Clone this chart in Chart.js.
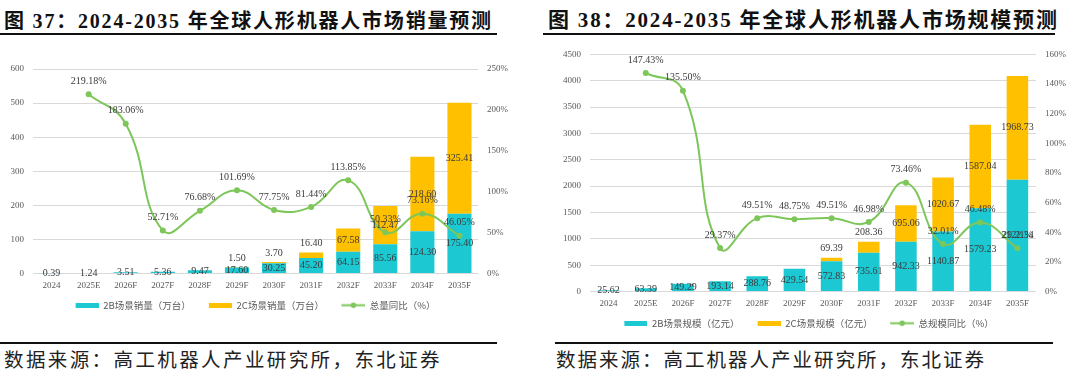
<!DOCTYPE html>
<html>
<head>
<meta charset="utf-8">
<script src="https://cdn.jsdelivr.net/npm/chart.js@4.4.0/dist/chart.umd.min.js"></script>
<style>
  body { margin: 0; width: 1080px; height: 379px; background: #fff; position: relative; overflow: hidden; }
  .title { position: absolute; top: 9px; font-family: "Liberation Serif", "Noto Sans CJK SC", serif; font-size: 20px; font-weight: bold; color: #111; letter-spacing: 1.8px; white-space: nowrap; line-height: 24px; }
  .rule { position: absolute; height: 2px; background: #111; }
  .source { position: absolute; top: 346px; font-family: "Noto Sans CJK SC", sans-serif; font-size: 19.5px; color: #222; letter-spacing: 2.4px; white-space: nowrap; line-height: 26px; }
  .box { position: absolute; }
</style>
</head>
<body>

<div class="title" style="left:4px;">图 37：2024-2035 年全球人形机器人市场销量预测</div>
<div class="rule" style="left:0px; top:33px; width:497px;"></div>
<div class="box" style="left:-12px; top:50px; width:537px; height:270px;"><canvas id="salesChart"></canvas></div>
<div class="rule" style="left:0px; top:342px; width:497px;"></div>
<div class="source" style="left:4px;">数据来源：高工机器人产业研究所，东北证券</div>

<div class="title" style="left:548px; top:8px; font-size:21px;">图 38：2024-2035 年全球人形机器人市场规模预测</div>
<div class="rule" style="left:543px; top:33px; width:512px;"></div>
<div class="box" style="left:528px; top:40px; width:552px; height:298px;"><canvas id="sizeChart"></canvas></div>
<div class="rule" style="left:555px; top:342px; width:498px;"></div>
<div class="source" style="left:556px; letter-spacing:2px;">数据来源：高工机器人产业研究所，东北证券</div>

<script>
// ---------------- data ----------------
const years = ["2024", "2025E", "2026F", "2027F", "2028F", "2029F", "2030F", "2031F", "2032F", "2033F", "2034F", "2035F"];

// 图37 销量（万台）
const sales2B = [0.39, 1.24, 3.51, 5.36, 9.47, 17.60, 30.25, 45.20, 64.15, 85.56, 124.30, 175.40];
const sales2C = [null, null, null, null, null, 1.50, 3.70, 16.40, 67.58, 112.47, 218.60, 325.41];
const salesYoY = [null, 219.18, 183.06, 52.71, 76.68, 101.69, 77.75, 81.44, 113.85, 50.33, 73.16, 46.05];

// 图38 规模（亿元）
const size2B = [25.62, 63.39, 149.29, 193.14, 288.76, 429.54, 572.83, 735.61, 942.33, 1140.87, 1579.23, 2122.34];
const size2C = [null, null, null, null, null, null, 69.39, 208.36, 695.06, 1020.67, 1587.04, 1968.73];
const sizeYoY = [null, 147.43, 135.50, 29.37, 49.51, 48.75, 49.51, 46.98, 73.46, 32.01, 46.48, 29.21];

const CYAN = "#1CC8D2";
const ORANGE = "#FFC000";
const GREEN = "#7DC65A";
const GREY = "#595959";

// ---------------- legend icons ----------------
// icons carry 10px of blank space on the left, used as gap between legend items
function barIcon(color) {
    const c = document.createElement("canvas");
    c.width = 33; c.height = 5;
    const g = c.getContext("2d");
    g.fillStyle = color;
    g.fillRect(10, 0, 23, 5);
    return c;
}

function lineIcon(color) {
    const c = document.createElement("canvas");
    c.width = 34; c.height = 7;
    const g = c.getContext("2d");
    g.strokeStyle = color;
    g.lineWidth = 2;
    g.beginPath(); g.moveTo(10, 3.5); g.lineTo(34, 3.5); g.stroke();
    g.fillStyle = color;
    g.beginPath(); g.arc(22, 3.5, 2.8, 0, Math.PI * 2); g.fill();
    return c;
}

// ---------------- value labels ----------------
const valueLabels = {
    id: "valueLabels",
    afterDatasetsDraw(chart) {
        const ctx = chart.ctx;
        ctx.save();
        ctx.font = '10px "Liberation Serif"';
        ctx.fillStyle = "#3a3a3a";
        ctx.textAlign = "center";
        ctx.textBaseline = "middle";
        chart.data.datasets.forEach((ds, i) => {
            const meta = chart.getDatasetMeta(i);
            meta.data.forEach((el, j) => {
                const v = ds.data[j];
                if (v === null || v === undefined) return;
                if (ds.type === "line") {
                    ctx.fillText(v.toFixed(2) + "%", el.x, el.y - 13);
                    return;
                }
                const h = el.base - el.y;
                let y = (el.y + el.base) / 2;
                if (ds.isTop && h < 14) y = el.y - 9;
                ctx.fillText(v.toFixed(2), el.x, y);
            });
        });
        ctx.restore();
    }
};

// ---------------- chart builder ----------------
function buildChart(id, cfg) {
    const ctx = document.getElementById(id);
    if (!ctx) return null;

    return new Chart(ctx, {
        data: {
            labels: years,
            datasets: [
                {
                    type: "bar",
                    label: cfg.names[0],
                    data: cfg.b,
                    backgroundColor: CYAN,
                    yAxisID: "y",
                    order: 1,
                    barPercentage: 1,
                    categoryPercentage: cfg.catPct
                },
                {
                    type: "bar",
                    label: cfg.names[1],
                    data: cfg.c,
                    backgroundColor: ORANGE,
                    yAxisID: "y",
                    order: 1,
                    isTop: true,
                    barPercentage: 1,
                    categoryPercentage: cfg.catPct
                },
                {
                    type: "line",
                    label: cfg.names[2],
                    data: cfg.yoy,
                    borderColor: GREEN,
                    backgroundColor: GREEN,
                    borderWidth: 2,
                    tension: 0.45,
                    pointRadius: 3,
                    pointBackgroundColor: GREEN,
                    pointBorderWidth: 0,
                    yAxisID: "y1",
                    order: 0
                }
            ]
        },
        options: {
            responsive: true,
            maintainAspectRatio: false,
            animation: false,
            layout: {
                padding: cfg.padding
            },
            plugins: {
                tooltip: { enabled: false },
                legend: {
                    position: "bottom",
                    labels: {
                        usePointStyle: true,
                        pointStyleWidth: 33,
                        padding: 8,
                        color: GREY,
                        font: { family: "Noto Sans CJK SC", size: 9.5 },
                        generateLabels(chart) {
                            return chart.data.datasets.map((ds, i) => ({
                                text: ds.label,
                                pointStyle: ds.type === "line" ? lineIcon(GREEN) : barIcon(ds.backgroundColor),
                                fontColor: GREY,
                                hidden: false,
                                lineWidth: 0,
                                strokeStyle: "transparent",
                                fillStyle: ds.backgroundColor,
                                datasetIndex: i
                            }));
                        }
                    }
                }
            },
            scales: {
                x: {
                    stacked: true,
                    grid: { display: false, drawTicks: false, tickLength: 0 },
                    border: { display: false },
                    ticks: {
                        color: GREY,
                        padding: 7,
                        maxRotation: 0,
                        autoSkip: false,
                        font: { family: "Liberation Serif", size: 9 }
                    },
                    afterFit(scale) { scale.height = cfg.xHeight; }
                },
                y: {
                    stacked: true,
                    position: "left",
                    min: 0,
                    max: cfg.leftMax,
                    grid: { color: "#D9D9D9", drawTicks: false, tickLength: 0 },
                    border: { display: false },
                    ticks: {
                        stepSize: cfg.leftStep,
                        color: GREY,
                        padding: 9,
                        font: { family: "Liberation Serif", size: 9 },
                        callback: (v) => String(v)
                    },
                    afterFit(scale) { scale.width = cfg.leftW; }
                },
                y1: {
                    position: "right",
                    min: 0,
                    max: cfg.rightMax,
                    grid: { display: false, drawTicks: false, tickLength: 0 },
                    border: { display: false },
                    ticks: {
                        stepSize: cfg.rightStep,
                        color: GREY,
                        padding: 9,
                        font: { family: "Liberation Serif", size: 9 },
                        callback: (v) => v + "%"
                    },
                    afterFit(scale) { scale.width = cfg.rightW; }
                }
            }
        },
        plugins: [valueLabels]
    });
}

document.addEventListener("DOMContentLoaded", () => {

    buildChart("salesChart", {
        names: ["2B场景销量（万台）", "2C场景销量（万台）", "总量同比（%）"],
        b: sales2B, c: sales2C, yoy: salesYoY,
        leftMax: 600, leftStep: 100, rightMax: 250, rightStep: 50,
        leftW: 45, rightW: 35, xHeight: 19, catPct: 0.65,
        padding: { top: 19, bottom: 0, left: 0, right: 12 }
    });

    buildChart("sizeChart", {
        names: ["2B场景规模（亿元）", "2C场景规模（亿元）", "总规模同比（%）"],
        b: size2B, c: size2C, yoy: sizeYoY,
        leftMax: 4500, leftStep: 500, rightMax: 160, rightStep: 20,
        leftW: 62, rightW: 44, xHeight: 19, catPct: 0.58,
        padding: { top: 10, bottom: 0, left: 0, right: 0 }
    });

});
</script>
</body>
</html>
